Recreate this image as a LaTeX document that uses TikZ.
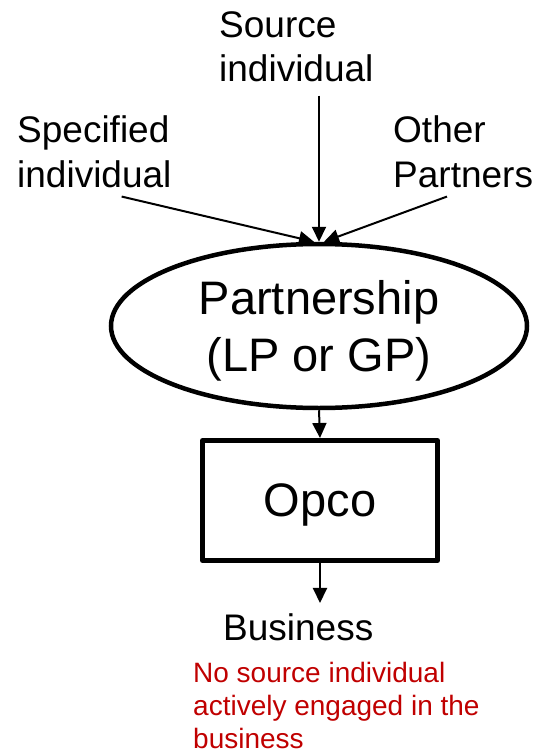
\documentclass[tikz,border=0pt]{standalone}
\usepackage{fontspec}
\setmainfont{Liberation Sans}
\usetikzlibrary{shapes.geometric,arrows.meta}
\definecolor{darkred}{HTML}{C00000}
\tikzset{
  lbl/.style={font=\fontsize{37}{44}\selectfont, align=left, inner sep=0pt, anchor=base west},
  big/.style={font=\fontsize{47}{57}\selectfont, align=center, text depth=0pt},
  arr/.style={line width=2pt, -{Triangle[width=14pt,length=15pt]}},
  note/.style={font=\fontsize{28}{33}\selectfont, text=darkred, align=left, inner sep=0pt, anchor=base west}
}
\begin{document}
\begin{tikzpicture}[x=1pt,y=-1pt]
\useasboundingbox (0,0) rectangle (535,754);
\node[lbl] (src) at (219,82) {Source\\individual};
\node[lbl] (spec) at (17,187) {Specified\\individual};
\node[lbl] (oth) at (393,187) {Other\\Partners};
\node[big, ellipse, draw, line width=4.5pt, minimum width=416pt, minimum height=164pt, inner sep=0pt] (ell) at (319,326) {Partnership\\(LP or GP)};
\node[big, rectangle, draw, line width=5pt, line join=round, minimum width=235pt, minimum height=120pt, inner sep=0pt] (box) at (320,500.5) {Opco};
\node[lbl] (bus) at (223,640) {Business};
\node[note] (nt) at (193,748) {No source individual\\actively engaged in the\\business};
\draw[arr] ([yshift=-13pt]src.south -| ell.north) -- (ell.north);
\draw[arr] ([xshift=-50pt,yshift=-9pt]spec.south east) -- ([xshift=-5pt]ell.north);
\draw[arr] ([xshift=54pt,yshift=-9pt]oth.south west) -- ([xshift=5pt]ell.north);
\draw[arr] (ell.south) -- (box.north);
\draw[arr] (box.south) -- ([yshift=10pt]bus.north -| box.south);
\end{tikzpicture}
\end{document}
